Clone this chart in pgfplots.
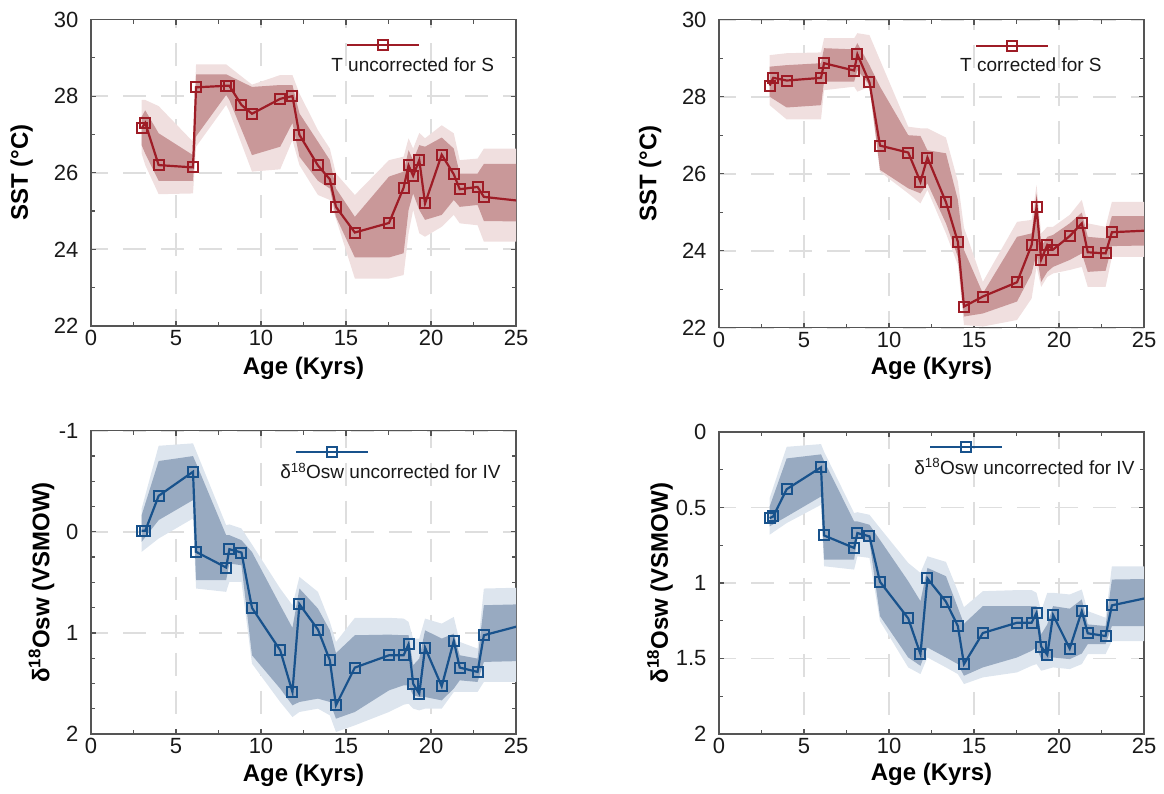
\documentclass[border=0pt]{standalone}
\usepackage{fontspec}
\setmainfont{Liberation Sans}
\usepackage{pgfplots}
\pgfplotsset{compat=1.18}
\definecolor{redline}{RGB}{158,28,38}
\definecolor{reddark}{RGB}{201,152,153}
\definecolor{redlight}{RGB}{240,223,223}
\definecolor{blueline}{RGB}{24,82,140}
\definecolor{bluedark}{RGB}{152,170,193}
\definecolor{bluelight}{RGB}{221,229,238}
\definecolor{axgray}{RGB}{85,85,85}
\definecolor{gridgray}{RGB}{222,222,222}
\definecolor{txt}{RGB}{25,25,25}
\pgfplotsset{
 myaxis/.style={
  scale only axis, width=425pt,
  xmin=0, xmax=25, xtick={0,5,...,25}, xticklabels={0,5,10,15,20,25}, minor x tick num=1,
  tick align=inside, xtick pos=both, ytick pos=both,
  major tick length=5pt, minor tick length=4pt,
  axis line style={axgray, line width=1.4pt},
  tick style={axgray, line width=1.2pt},
  grid=major, major grid style={dash pattern=on 23pt off 15pt, dash phase=6pt, color=gridgray, line width=1.9pt},
  ticklabel style={font=\fontsize{22}{22}\selectfont, text=txt},
  yticklabel style={xshift=-9pt},
  xticklabel style={yshift=-1pt},
  label style={font=\bfseries\fontsize{24}{24}\selectfont, text=black},
  xlabel={Age (Kyrs)},
  legend style={draw=none, fill=none, inner sep=0pt, column sep=0pt, nodes={inner sep=0pt}, font=\fontsize{19}{19}\selectfont, text=txt},
  legend image code/.code={\draw[##1,mark indices={2},overlay] plot coordinates {(16pt,20pt) (52pt,20pt) (88pt,20pt)};},
 },
 redser/.style={color=redline, line width=2.2pt, mark=square, mark size=5pt, mark options={solid, line width=2pt}, mark indices={1,...,27}},
 blueser/.style={color=blueline, line width=2.2pt, mark=square, mark size=5pt, mark options={solid, line width=2pt}, mark indices={1,...,27}},
}
\begin{document}
\begin{tikzpicture}
\useasboundingbox (0,0) rectangle (1164pt,-793pt);
% ---------------- top left
\begin{axis}[myaxis, at={(91pt,-326pt)}, anchor=south west, height=306.5pt,
  ymin=22, ymax=30, ytick={22,24,...,30}, yticklabels={22,24,26,28,30}, minor y tick num=1,
  ylabel={SST (°C)},
  ylabel style={at={(axis description cs:-0.163,0.5)}, anchor=center},
  xlabel style={at={(axis description cs:0.5,-0.137)}, anchor=center},
  legend style={at={(0.565,0.852)}, anchor=west}]
\addplot[fill=redlight, draw=none, forget plot] coordinates {
(2.98,27.90)(3.19,27.9)(3.98,27.74)(6.0,26.81)(6.18,28.83)(7.95,28.83)(9.47,28.3)(11.13,28.55)(11.85,28.55)(12.26,28.07)(13.35,27.11)(14.05,26.63)(14.41,25.98)(15.52,25.42)(17.53,26.33)(18.39,26.42)(18.68,26.90)(18.95,26.63)(19.31,27.04)(19.65,26.90)(20.63,27.24)(21.34,27.03)(21.69,26.33)(22.74,26.37)(23.11,26.63)(27,26.63)
(27,24.20)(23.11,24.20)(22.74,24.63)(21.69,24.68)(21.34,24.90)(20.63,24.59)(19.65,24.33)(19.31,24.42)(18.95,25.03)(18.68,24.42)(18.39,23.33)(17.53,23.24)(15.52,23.24)(14.41,24.8)(14.05,25.29)(13.35,25.42)(12.26,26.2)(11.85,26.85)(11.13,26.09)(9.47,26.03)(8.14,27.6)(7.95,27.77)(6.18,26.68)(6.0,25.46)(3.98,25.44)(3.19,26.2)(2.98,26.50)};
\addplot[fill=reddark, draw=none, forget plot] coordinates {
(2.98,27.46)(3.19,27.63)(3.98,27.03)(6.0,26.46)(6.18,28.57)(7.95,28.57)(9.47,28.24)(11.13,28.29)(11.85,28.29)(12.26,27.55)(13.35,26.81)(14.05,26.33)(14.41,25.59)(15.52,24.85)(17.53,25.90)(18.39,26.03)(18.68,26.59)(18.95,26.33)(19.31,26.72)(19.65,26.68)(20.63,26.92)(21.34,26.63)(21.69,25.98)(22.74,25.98)(23.11,26.23)(27,26.23)
(27,24.72)(23.11,24.74)(22.74,25.16)(21.69,25.11)(21.34,25.29)(20.63,24.90)(19.65,24.77)(19.31,25.03)(18.95,25.46)(18.68,25.03)(18.39,23.90)(17.53,23.79)(15.52,23.79)(14.41,24.85)(14.05,25.59)(13.35,25.79)(12.26,26.42)(11.85,27.3)(11.13,26.68)(9.47,26.46)(8.14,27.9)(7.95,28.03)(6.18,26.95)(6.0,25.79)(3.98,25.79)(3.19,26.5)(2.98,26.72)};
\addplot[redser] coordinates {
(2.98,27.16)(3.19,27.30)(3.98,26.2)(6.0,26.14)(6.18,28.23)(7.95,28.27)(8.14,28.27)(8.85,27.77)(9.47,27.54)(11.13,27.93)(11.85,28.0)(12.26,26.99)(13.35,26.19)(14.05,25.83)(14.41,25.11)(15.52,24.44)(17.53,24.69)(18.39,25.61)(18.68,26.19)(18.95,25.92)(19.31,26.33)(19.65,25.2)(20.63,26.47)(21.34,25.96)(21.69,25.57)(22.74,25.63)(23.11,25.37)(27,25.18)};
\addlegendentry{T uncorrected for S}
\end{axis}
% ---------------- top right
\begin{axis}[myaxis, at={(719pt,-327.7pt)}, anchor=south west, height=308pt,
  ymin=22, ymax=30, ytick={22,24,...,30}, yticklabels={22,24,26,28,30}, minor y tick num=1,
  ylabel={SST (°C)},
  ylabel style={at={(axis description cs:-0.162,0.5)}, anchor=center},
  xlabel style={at={(axis description cs:0.5,-0.131)}, anchor=center},
  legend style={at={(0.567,0.851)}, anchor=west}]
\addplot[fill=redlight, draw=none, forget plot] coordinates {
(2.98,29.08)(3.98,29.13)(6.0,29.15)(6.18,29.52)(7.95,29.52)(8.14,29.65)(8.85,29.60)(11.13,27.22)(11.85,27.18)(12.26,27.18)(13.35,26.94)(14.05,25.8)(14.41,24.6)(15.52,23.19)(17.53,24.75)(18.39,24.80)(18.68,25.71)(18.95,24.45)(19.31,24.62)(19.65,24.62)(20.63,24.93)(21.34,25.32)(21.69,24.71)(22.74,24.62)(23.11,25.27)(27,25.27)
(27,23.84)(23.11,23.84)(22.74,23.06)(21.69,23.06)(21.34,23.58)(20.63,23.50)(19.65,23.41)(19.31,23.32)(18.95,23.06)(18.68,23.58)(18.39,22.76)(17.53,22.20)(15.52,22.03)(14.41,22.07)(14.05,23.63)(13.35,24.45)(12.26,25.58)(11.85,25.23)(11.13,25.49)(9.47,26.05)(8.85,28.26)(8.14,28.13)(7.95,28.26)(6.18,28.17)(6.0,27.41)(3.98,27.41)(2.98,27.78)};
\addplot[fill=reddark, draw=none, forget plot] coordinates {
(2.98,28.78)(3.98,28.82)(6.0,28.87)(6.18,29.26)(7.95,29.23)(8.14,29.39)(8.85,28.82)(9.47,28.26)(11.13,27.0)(11.85,26.98)(12.26,26.61)(13.35,26.53)(14.05,25.32)(14.41,24.02)(15.52,22.89)(17.53,24.36)(18.39,24.45)(18.68,25.49)(18.95,24.10)(19.31,24.36)(19.65,24.41)(20.63,24.71)(21.34,24.99)(21.69,24.36)(22.74,24.32)(23.11,24.90)(27,24.90)
(27,24.15)(23.11,24.12)(22.74,23.48)(21.69,23.45)(21.34,23.93)(20.63,23.76)(19.65,23.58)(19.31,23.45)(18.95,23.19)(18.68,23.93)(18.39,23.41)(17.53,22.68)(15.52,22.37)(14.41,22.29)(14.05,23.84)(13.35,24.71)(12.26,25.75)(11.85,25.49)(11.13,25.62)(9.47,26.10)(8.85,28.3)(8.14,28.69)(7.95,28.39)(6.18,28.39)(6.0,27.78)(3.98,27.72)(2.98,28.0)};
\addplot[redser] coordinates {
(2.98,28.29)(3.19,28.49)(3.98,28.42)(6.0,28.49)(6.18,28.87)(7.95,28.68)(8.14,29.10)(8.85,28.37)(9.47,26.73)(11.13,26.55)(11.85,25.79)(12.26,26.42)(13.35,25.26)(14.05,24.23)(14.41,22.55)(15.52,22.81)(17.53,23.18)(18.39,24.15)(18.68,25.13)(18.95,23.77)(19.31,24.15)(19.65,24.03)(20.63,24.38)(21.34,24.71)(21.69,23.96)(22.74,23.93)(23.11,24.48)(27,24.56)};
\addlegendentry{T corrected for S}
\end{axis}
% ---------------- bottom left
\begin{axis}[myaxis, at={(91pt,-734pt)}, anchor=south west, height=303.3pt,
  y dir=reverse, ymin=-1, ymax=2, ytick={-1,0,1,2}, yticklabels={-1,0,1,2}, minor y tick num=3,
  ylabel={δ\textsuperscript{18}Osw (VSMOW)},
  ylabel style={at={(axis description cs:-0.1165,0.5)}, anchor=center},
  xlabel style={at={(axis description cs:0.5,-0.135)}, anchor=center},
  legend style={at={(0.445,0.865)}, anchor=west}]
\addplot[fill=bluelight, draw=none, forget plot] coordinates {
(2.98,-0.23)(3.98,-0.851)(6.0,-0.875)(6.18,-0.80)(7.95,-0.066)(8.14,-0.073)(8.85,-0.033)(9.47,0.125)(11.13,0.561)(11.85,0.726)(12.26,0.446)(13.35,0.594)(14.05,0.891)(14.41,1.09)(15.52,0.851)(17.53,0.851)(18.39,0.858)(18.68,0.891)(18.95,1.056)(19.31,1.056)(19.65,0.858)(20.63,0.908)(21.34,0.842)(21.69,1.089)(22.74,1.155)(23.11,0.561)(27,0.545)
(27,1.485)(23.11,1.485)(22.74,1.584)(21.69,1.584)(21.34,1.584)(20.63,1.749)(19.65,1.749)(19.31,1.766)(18.95,1.749)(18.68,1.700)(18.39,1.71)(17.53,1.782)(15.52,1.914)(14.41,1.980)(14.05,1.815)(13.35,1.749)(12.26,1.782)(11.85,1.832)(11.13,1.683)(9.47,1.304)(8.85,0.495)(8.14,0.495)(7.95,0.594)(6.18,0.561)(6.0,-0.132)(3.98,0.066)(2.98,0.198)};
\addplot[fill=bluedark, draw=none, forget plot] coordinates {
(2.98,-0.165)(3.98,-0.70)(6.0,-0.749)(6.18,-0.68)(7.95,0.033)(8.14,0.033)(8.85,0.083)(9.47,0.20)(11.13,0.726)(11.85,0.95)(12.26,0.561)(13.35,0.759)(14.05,0.974)(14.41,1.2)(15.52,1.023)(17.53,1.017)(18.39,1.023)(18.68,1.023)(18.95,1.320)(19.31,1.254)(19.65,0.974)(20.63,1.056)(21.34,1.007)(21.69,1.221)(22.74,1.254)(23.11,0.726)(27,0.71)
(27,1.271)(23.11,1.287)(22.74,1.485)(21.69,1.469)(21.34,1.551)(20.63,1.667)(19.65,1.634)(19.31,1.634)(18.95,1.617)(18.68,1.52)(18.39,1.518)(17.53,1.568)(15.52,1.782)(14.41,1.848)(14.05,1.683)(13.35,1.650)(12.26,1.683)(11.85,1.716)(11.13,1.551)(9.47,1.221)(8.85,0.330)(8.14,0.314)(7.95,0.479)(6.18,0.479)(6.0,-0.314)(3.98,-0.116)(2.98,0.099)};
\addplot[blueser] coordinates {
(2.98,-0.01)(3.19,-0.01)(3.98,-0.356)(6.0,-0.594)(6.18,0.198)(7.95,0.353)(8.14,0.172)(8.85,0.205)(9.47,0.752)(11.13,1.172)(11.85,1.584)(12.26,0.716)(13.35,0.967)(14.05,1.271)(14.41,1.716)(15.52,1.343)(17.53,1.221)(18.39,1.221)(18.68,1.112)(18.95,1.502)(19.31,1.601)(19.65,1.145)(20.63,1.528)(21.34,1.079)(21.69,1.343)(22.74,1.386)(23.11,1.023)(27,0.85)};
\addlegendentry{δ\textsuperscript{18}Osw uncorrected for IV}
\end{axis}
% ---------------- bottom right
\begin{axis}[myaxis, at={(719pt,-734pt)}, anchor=south west, height=302pt,
  y dir=reverse, ymin=0, ymax=2, ytick={0,0.5,1,1.5,2}, yticklabels={0,0.5,1,1.5,2}, minor y tick num=1,
  ylabel={δ\textsuperscript{18}Osw (VSMOW)},
  ylabel style={at={(axis description cs:-0.139,0.5)}, anchor=center},
  xlabel style={at={(axis description cs:0.5,-0.135)}, anchor=center},
  legend style={at={(0.459,0.884)}, anchor=west}]
\addplot[fill=bluelight, draw=none, forget plot] coordinates {
(2.98,0.438)(3.98,0.098)(6.0,0.080)(6.18,0.13)(7.95,0.537)(8.14,0.531)(8.85,0.548)(9.47,0.636)(11.13,0.867)(11.85,0.933)(12.26,0.823)(13.35,0.860)(14.05,1.054)(14.41,1.16)(15.52,1.054)(17.53,1.047)(18.39,1.047)(18.68,1.065)(18.95,1.186)(19.31,1.065)(19.65,1.065)(20.63,1.076)(21.34,1.043)(21.69,1.186)(22.74,1.230)(23.11,0.889)(27,0.889)
(27,1.384)(23.11,1.384)(22.74,1.471)(21.69,1.471)(21.34,1.537)(20.63,1.570)(19.65,1.559)(19.31,1.570)(18.95,1.581)(18.68,1.537)(18.39,1.548)(17.53,1.592)(15.52,1.625)(14.41,1.669)(14.05,1.603)(13.35,1.559)(12.26,1.493)(11.85,1.603)(11.13,1.559)(9.47,1.252)(8.85,0.834)(8.14,0.823)(7.95,0.911)(6.18,0.889)(6.0,0.482)(3.98,0.603)(2.98,0.680)};
\addplot[fill=bluedark, draw=none, forget plot] coordinates {
(2.98,0.493)(3.98,0.175)(6.0,0.148)(6.18,0.192)(7.95,0.592)(8.14,0.592)(8.85,0.614)(9.47,0.715)(11.13,0.988)(11.85,1.12)(12.26,0.900)(13.35,0.955)(14.05,1.164)(14.41,1.27)(15.52,1.153)(17.53,1.153)(18.39,1.153)(18.68,1.153)(18.95,1.340)(19.31,1.274)(19.65,1.153)(20.63,1.170)(21.34,1.109)(21.69,1.274)(22.74,1.285)(23.11,0.977)(27,0.970)
(27,1.285)(23.11,1.285)(22.74,1.405)(21.69,1.405)(21.34,1.467)(20.63,1.504)(19.65,1.493)(19.31,1.504)(18.95,1.504)(18.68,1.427)(18.39,1.449)(17.53,1.493)(15.52,1.559)(14.41,1.614)(14.05,1.537)(13.35,1.493)(12.26,1.427)(11.85,1.548)(11.13,1.493)(9.47,1.219)(8.85,0.724)(8.14,0.70)(7.95,0.845)(6.18,0.845)(6.0,0.427)(3.98,0.560)(2.98,0.625)};
\addplot[blueser] coordinates {
(2.98,0.570)(3.19,0.559)(3.98,0.379)(6.0,0.234)(6.18,0.685)(7.95,0.768)(8.14,0.669)(8.85,0.691)(9.47,0.992)(11.13,1.234)(11.85,1.471)(12.26,0.970)(13.35,1.124)(14.05,1.285)(14.41,1.537)(15.52,1.331)(17.53,1.263)(18.39,1.263)(18.68,1.197)(18.95,1.421)(19.31,1.476)(19.65,1.212)(20.63,1.434)(21.34,1.186)(21.69,1.333)(22.74,1.351)(23.11,1.148)(27,1.055)};
\addlegendentry{δ\textsuperscript{18}Osw uncorrected for IV}
\end{axis}
\end{tikzpicture}
\end{document}
